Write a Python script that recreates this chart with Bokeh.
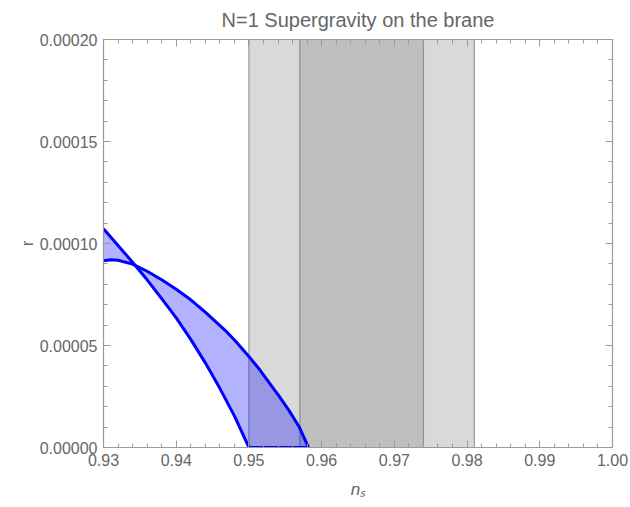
from bokeh.plotting import figure
from bokeh.models import LinearAxis, FixedTicker, NumeralTickFormatter, CustomJSTickFormatter
from bokeh.embed import file_html
from bokeh.resources import INLINE

# ---- data ----
title_text = "N=1 Supergravity on the brane"
x_label = "nₛ"
y_label = "r"

# observational bands in n_s
band_outer = [0.9500, 0.9810]
band_inner = [0.9570, 0.9740]

# steeper boundary curve
ns_a = [0.930, 0.932, 0.934, 0.936, 0.938, 0.940, 0.942, 0.944, 0.946, 0.948, 0.950]
r_a = [1.072e-4, 0.990e-4, 0.908e-4, 0.822e-4, 0.730e-4, 0.635e-4, 0.530e-4,
       0.415e-4, 0.290e-4, 0.155e-4, 0.0]

# flatter boundary curve
ns_b = [0.930, 0.931, 0.932, 0.934, 0.936, 0.938, 0.940, 0.942, 0.944, 0.9468,
        0.9482, 0.9500, 0.9514, 0.9527, 0.9541, 0.9555, 0.9569, 0.9582]
r_b = [0.916e-4, 0.920e-4, 0.918e-4, 0.899e-4, 0.864e-4, 0.822e-4, 0.776e-4,
       0.724e-4, 0.664e-4, 0.572e-4, 0.520e-4, 0.446e-4, 0.385e-4, 0.322e-4,
       0.254e-4, 0.182e-4, 0.102e-4, 0.0]

x_major = [0.93, 0.94, 0.95, 0.96, 0.97, 0.98, 0.99, 1.00]
x_minor = [round(0.93 + 0.002 * i, 3) for i in range(36)]
y_major = [0.0, 0.00005, 0.00010, 0.00015, 0.00020]
y_minor = [round(0.00001 * i, 6) for i in range(21)]

FONT = "Liberation Sans"
TXT = "#666666"
FRAME = "#9a9a9a"

p = figure(frame_width=509, frame_height=408,
           x_range=(0.93, 1.00), y_range=(0.0, 0.0002),
           output_backend="svg", toolbar_location=None,
           min_border_left=103, min_border_right=18,
           min_border_top=39, min_border_bottom=60,
           title=title_text)
p.grid.visible = False
p.outline_line_color = None
p.background_fill_color = "white"
p.border_fill_color = "white"

p.title.align = "center"
p.title.vertical_align = "top"
p.title.text_font = FONT
p.title.text_font_size = "20px"
p.title.text_font_style = "normal"
p.title.text_color = TXT
p.title.standoff = 14

# bands
p.quad(left=band_outer[0], right=band_outer[1], bottom=0.0, top=0.0002,
       fill_color="#d9d9d9", line_color="#999999", line_width=1.2)
p.quad(left=band_inner[0], right=band_inner[1], bottom=0.0, top=0.0002,
       fill_color="#bfbfbf", line_color="#8f8f8f", line_width=1.2)

# filled region between the curves
poly_x = ns_a + ns_b[::-1]
poly_y = r_a + r_b[::-1]
p.patch(poly_x, poly_y, fill_color="#0000ff", fill_alpha=0.3, line_color=None)

p.line(ns_a, r_a, line_color="#0000ff", line_width=3)
p.line(ns_b, r_b, line_color="#0000ff", line_width=3)
p.line([ns_a[-1], ns_b[-1]], [r_a[-1], r_b[-1]], line_color="#0000ff", line_width=3)

def style(ax, labels=True):
    ax.axis_line_color = FRAME
    ax.axis_line_width = 1.2
    ax.major_tick_line_color = FRAME
    ax.minor_tick_line_color = FRAME
    ax.major_tick_in = 7
    ax.major_tick_out = 0
    ax.minor_tick_in = 4
    ax.minor_tick_out = 0
    ax.major_label_text_font = FONT
    ax.major_label_text_font_size = "16px"
    ax.major_label_text_color = TXT
    ax.axis_label_text_font = FONT
    ax.axis_label_text_color = TXT
    ax.axis_label_text_font_size = "17px"
    if not labels:
        ax.major_label_text_font_size = "0px"
        ax.major_label_standoff = 0
        ax.formatter = CustomJSTickFormatter(code="return ''")

xt = FixedTicker(ticks=x_major, minor_ticks=x_minor)
yt = FixedTicker(ticks=y_major, minor_ticks=y_minor)

xb = p.xaxis[0]
xb.ticker = xt
xb.formatter = NumeralTickFormatter(format="0.00")
style(xb)
xb.major_label_standoff = 6
xb.axis_label = x_label
xb.axis_label_text_font_style = "italic"
xb.axis_label_standoff = 11

yl = p.yaxis[0]
yl.ticker = yt
yl.formatter = NumeralTickFormatter(format="0.00000")
style(yl)
yl.major_label_standoff = 6
yl.axis_label = y_label
yl.axis_label_text_font_style = "normal"
yl.axis_label_standoff = 0

xa = LinearAxis(ticker=FixedTicker(ticks=x_major, minor_ticks=x_minor))
style(xa, labels=False)
p.add_layout(xa, "above")
yr = LinearAxis(ticker=FixedTicker(ticks=y_major, minor_ticks=y_minor))
style(yr, labels=False)
p.add_layout(yr, "right")

open("out.html", "w").write(file_html(p, INLINE))
